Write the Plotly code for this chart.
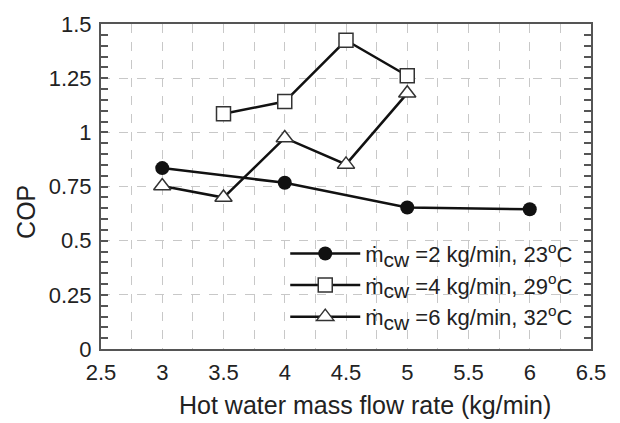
import plotly.graph_objects as go

x1 = [3, 4, 5, 6]
y1 = [0.835, 0.767, 0.653, 0.645]
x2 = [3.5, 4, 4.5, 5]
y2 = [1.086, 1.142, 1.425, 1.261]
x3 = [3, 3.5, 4, 4.5, 5]
y3 = [0.752, 0.699, 0.974, 0.852, 1.18]
SUB = "<sub><span style='font-size:21px'>cw</span></sub>"
names = ["ṁ" + SUB + " =2 kg/min, 23<sup>o</sup>C",
         "ṁ" + SUB + " =4 kg/min, 29<sup>o</sup>C",
         "ṁ" + SUB + " =6 kg/min, 32<sup>o</sup>C"]
x_title = "Hot water mass flow rate (kg/min)"
y_title = "COP"

FONT = "Liberation Sans, Arial, sans-serif"
fig = go.Figure()
fig.add_trace(go.Scatter(x=x1, y=y1, name=names[0], mode="lines+markers",
                         line=dict(color="#111", width=2.5),
                         marker=dict(symbol="circle", size=14, color="#111")))
fig.add_trace(go.Scatter(x=x2, y=y2, name=names[1], mode="lines+markers",
                         line=dict(color="#111", width=2.5),
                         marker=dict(symbol="square", size=14, color="white",
                                     line=dict(color="#333", width=1.5))))
fig.add_trace(go.Scatter(x=x3, y=y3, name=names[2], mode="lines+markers",
                         line=dict(color="#111", width=2.5),
                         marker=dict(symbol="triangle-up", size=15, color="white",
                                     line=dict(color="#333", width=1.5))))

fig.update_layout(
    width=620, height=423,
    margin=dict(l=101, r=29, t=22, b=74),
    paper_bgcolor="white", plot_bgcolor="white",
    font=dict(family=FONT, size=22, color="#222"),
    showlegend=True,
    legend=dict(x=0.376, y=0.358, xanchor="left", yanchor="top",
                bgcolor="rgba(0,0,0,0)", font=dict(family=FONT, size=22, color="#222"),
                itemwidth=70, tracegroupgap=0),
    annotations=[
        dict(text=x_title, xref="paper", yref="paper", x=0.538, y=-0.171,
             xanchor="center", yanchor="middle", showarrow=False,
             font=dict(family=FONT, size=25, color="#222")),
        dict(text=y_title, xref="paper", yref="paper", x=-0.153, y=0.422,
             xanchor="center", yanchor="middle", showarrow=False, textangle=-90,
             font=dict(family=FONT, size=25, color="#222")),
    ],
)
fig.update_xaxes(range=[2.5, 6.5], dtick=0.5, tick0=2.5,
                 showline=True, linecolor="#555", linewidth=2, mirror=True,
                 showgrid=True, gridcolor="#c8c8c8", griddash="dash", gridwidth=1,
                 minor=dict(dtick=0.25, showgrid=True, gridcolor="#c8c8c8",
                            griddash="dash", gridwidth=1),
                 ticks="", zeroline=False, ticklabelstandoff=3,
                 tickfont=dict(family=FONT, size=22))
fig.update_yaxes(range=[0, 1.5], dtick=0.25, tick0=0,
                 showline=True, linecolor="#555", linewidth=2, mirror="ticks",
                 showgrid=True, gridcolor="#c8c8c8", griddash="dash", gridwidth=1,
                 ticks="inside", ticklen=7, tickcolor="#555", tickwidth=1.5,
                 minor=dict(dtick=0.05, ticks="inside", ticklen=7, tickcolor="#555",
                            tickwidth=1.5, showgrid=False),
                 zeroline=False, ticklabelstandoff=3,
                 tickfont=dict(family=FONT, size=22))

fig.write_html("out.html")
